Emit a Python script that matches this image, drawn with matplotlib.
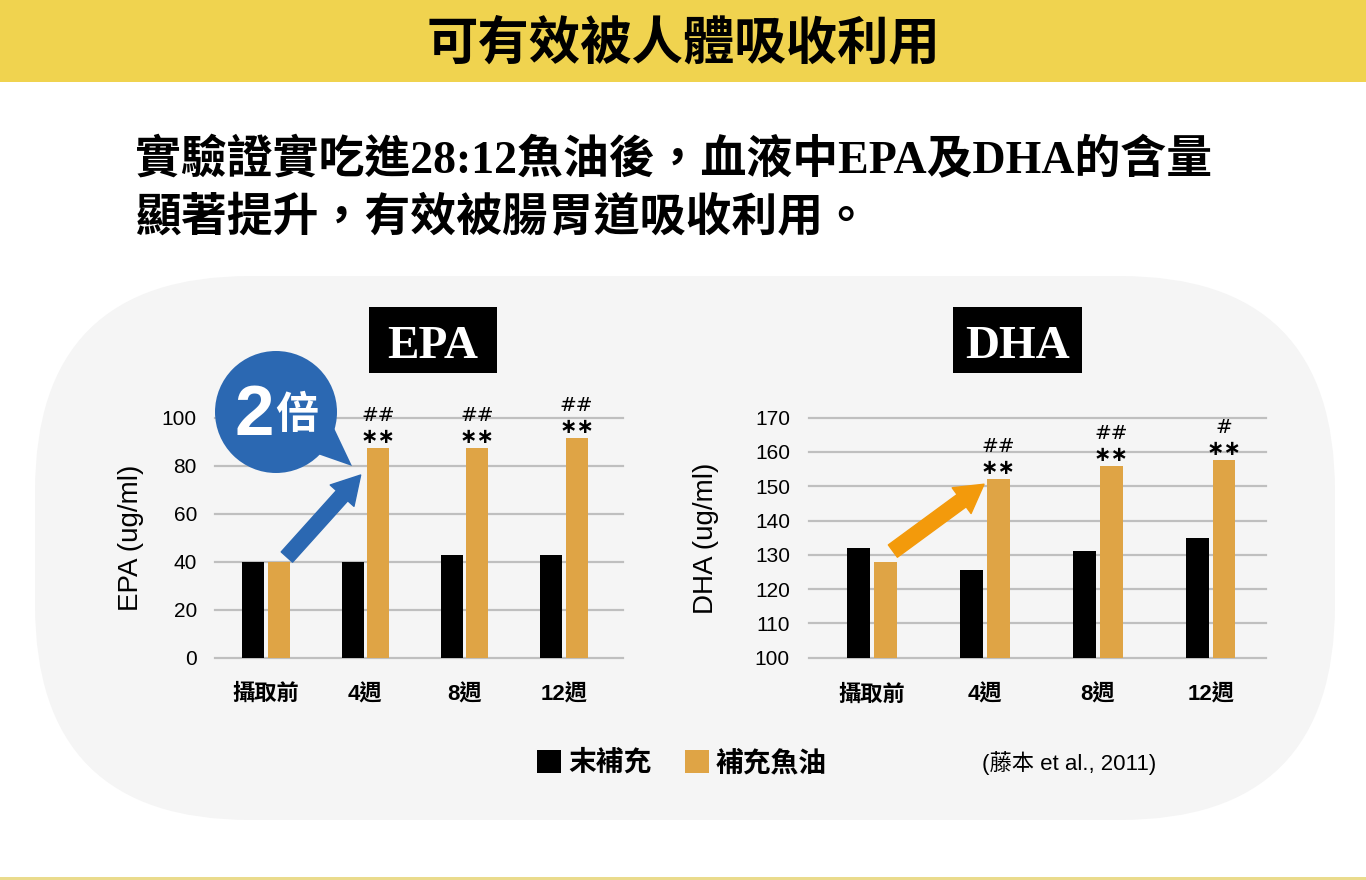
import matplotlib
matplotlib.use("Agg")
import matplotlib.pyplot as plt
from matplotlib.patches import FancyBboxPatch, Circle, Polygon, Rectangle
from matplotlib.font_manager import FontProperties
import numpy as np

# data
categories = ["攝取前", "4週", "8週", "12週"]
epa_control = [40, 40, 42.6, 42.6]
epa_fish = [40, 87.5, 87.5, 91.4]
dha_control = [132.0, 125.5, 131.2, 134.9]
dha_fish = [127.9, 152.1, 156.0, 157.6]
epa_hash = ["", "##", "##", "##"]
dha_hash = ["", "##", "##", "#"]
stars = ["", "**", "**", "**"]
legend_labels = ["末補充", "補充魚油"]

W, H = 1366, 880
YELLOW = "#F0D34F"
ORANGE = "#DFA445"
BLUE = "#2B68B2"
ARROW_ORANGE = "#F39A0B"
GRID = "#BFBFBF"

CJK = ["Noto Sans CJK TC"]
SANS = ["Liberation Sans", "Noto Sans CJK TC"]
SERIF = ["Liberation Serif", "Noto Sans CJK TC"]

fig = plt.figure(figsize=(W / 100, H / 100), dpi=100)
fig.patch.set_facecolor("white")

# background layer in pixel coordinates
bg = fig.add_axes([0, 0, 1, 1], zorder=0)
bg.set_xlim(0, W)
bg.set_ylim(H, 0)
bg.axis("off")

bg.add_patch(Rectangle((0, 0), W, 82, color=YELLOW, lw=0))
bg.add_patch(Rectangle((0, 877), W, 3, color="#EADB8C", lw=0))
bg.add_patch(FancyBboxPatch((35, 276), 1300, 544,
                            boxstyle="round,pad=0,rounding_size=215",
                            fc="#F5F5F5", ec="none"))

bg.text(683, 58, "可有效被人體吸收利用", ha="center", va="baseline",
        fontsize=37, fontweight="bold", family=CJK)
bg.text(135, 173, "實驗證實吃進28:12魚油後，血液中EPA及DHA的含量", ha="left",
        va="baseline", fontsize=33, fontweight="bold", family=SERIF)
bg.text(135, 230, "顯著提升，有效被腸胃道吸收利用。", ha="left",
        va="baseline", fontsize=33, fontweight="bold", family=SERIF)

# chart title boxes
bg.add_patch(Rectangle((369, 307), 128, 66, color="black", lw=0))
bg.text(433, 358, "EPA", ha="center", va="baseline", color="white",
        fontsize=34, fontweight="bold", family=["Liberation Serif"])
bg.add_patch(Rectangle((953, 307), 129, 66, color="black", lw=0))
bg.text(1017.5, 358, "DHA", ha="center", va="baseline", color="white",
        fontsize=34, fontweight="bold", family=["Liberation Serif"])

bg.text(131, 538, "EPA (ug/ml)", rotation=90, ha="center", va="center",
        fontsize=20, family=SANS)
bg.text(706, 538, "DHA (ug/ml)", rotation=90, ha="center", va="center",
        fontsize=20, family=SANS)

bg.text(982, 763, "(藤本 et al., 2011)", ha="left", va="center",
        fontsize=16, family=SANS)


def px_axes(left, top, right, bottom):
    return fig.add_axes([left / W, 1 - bottom / H, (right - left) / W,
                         (bottom - top) / H], zorder=1)


def style(ax, ticks, ylim, xlim, pad):
    ax.set_facecolor("none")
    for s in ax.spines.values():
        s.set_visible(False)
    ax.set_ylim(*ylim)
    ax.set_xlim(*xlim)
    ax.set_yticks(ticks)
    for t in ticks:
        ax.axhline(t, color=GRID, lw=1.6, zorder=0, clip_on=False)
    ax.tick_params(length=0)
    ax.tick_params(axis="y", pad=pad)
    ax.tick_params(axis="x", pad=19)
    for lab in ax.get_yticklabels():
        lab.set_fontfamily(SANS)
        lab.set_fontsize(15)
    ax.set_xticks(np.arange(len(categories)))
    ax.set_xticklabels(categories, fontsize=16, fontweight="bold",
                       family=SANS)


def marks(ax, x, tops, hashes, starlist):
    for xi, top, hs, st in zip(x, tops, hashes, starlist):
        if st:
            ax.annotate(st.replace("*", "∗"), (xi, top), xytext=(0, 8),
                        textcoords="offset points", ha="center", va="center",
                        fontsize=15, fontweight="bold", family=["DejaVu Sans"],
                        annotation_clip=False)
        if hs:
            ax.annotate(hs, (xi, top), xytext=(0, 23.5),
                        textcoords="offset points", ha="center", va="center",
                        fontsize=14.5, family=["DejaVu Sans"],
                        annotation_clip=False)


x = np.arange(len(categories))

# EPA
ax1 = px_axes(215, 417.7, 622.7, 657.5)
style(ax1, range(0, 101, 20), (0, 100), (-0.514, 3.592), 13)
b1 = ax1.bar(x - 0.128, epa_control, 0.222, color="black", zorder=2,
             label=legend_labels[0])
b2 = ax1.bar(x + 0.128, epa_fish, 0.222, color=ORANGE, zorder=2,
             label=legend_labels[1])
marks(ax1, x + 0.128, epa_fish, epa_hash, stars)
ax1.annotate("", xy=(0.953, 76.1), xytext=(0.21, 41.9),
             arrowprops=dict(arrowstyle="simple,head_length=2.0,head_width=2.3,tail_width=1.1",
                             mutation_scale=10, color=BLUE, shrinkA=0, shrinkB=0),
             annotation_clip=False)

# DHA
ax2 = px_axes(809.4, 417.7, 1265.5, 657.7)
style(ax2, range(100, 171, 10), (100, 170), (-0.553, 3.485), 14)
ax2.bar(x - 0.119, dha_control, 0.2, color="black", zorder=2)
ax2.bar(x + 0.119, dha_fish, 0.2, color=ORANGE, zorder=2)
marks(ax2, x + 0.119, dha_fish, dha_hash, stars)
ax2.annotate("", xy=(0.993, 150.6), xytext=(0.186, 131.1),
             arrowprops=dict(arrowstyle="simple,head_length=2.0,head_width=2.3,tail_width=1.1",
                             mutation_scale=10, color=ARROW_ORANGE, shrinkA=0, shrinkB=0),
             annotation_clip=False)

# speech bubble "2倍" drawn on top
fg = fig.add_axes([0, 0, 1, 1], zorder=3)
fg.set_xlim(0, W)
fg.set_ylim(H, 0)
fg.axis("off")
fg.patch.set_alpha(0)
fg.add_patch(Circle((276, 412), 61, color=BLUE, lw=0))
fg.add_patch(Polygon([(312, 452), (334, 428), (352, 466)], closed=True,
                     color=BLUE, lw=0))
fg.text(254, 435, "2", ha="center", va="baseline", color="white",
        fontsize=51, fontweight="bold", family=["Liberation Sans"])
fg.text(297, 428, "倍", ha="center", va="baseline", color="white",
        fontsize=31, fontweight="bold", family=CJK)

# legend
leg_font = FontProperties(family=CJK, size=20, weight="bold")
fig.legend(handles=[b1, b2], labels=legend_labels, loc="center left",
           bbox_to_anchor=(537 / W, 1 - 763 / H), ncol=2, frameon=False,
           prop=leg_font, handlelength=0.87, handleheight=0.9,
           handletextpad=0.25, columnspacing=1.2, borderpad=0,
           borderaxespad=0)

fig.savefig("out.png", dpi=100, facecolor="white")
